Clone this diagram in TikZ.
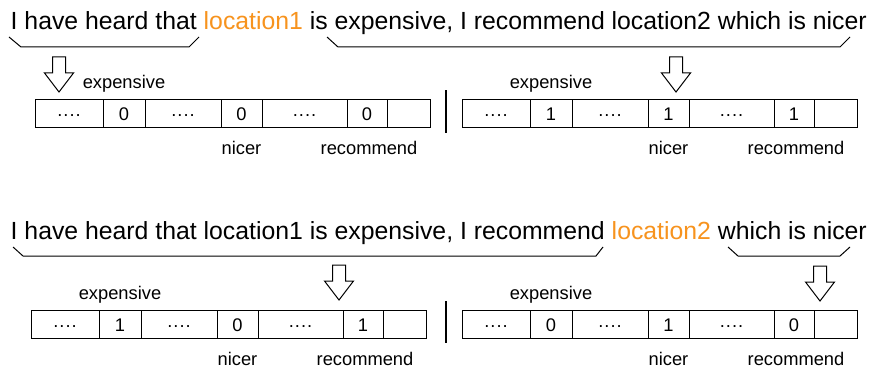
\documentclass[tikz,border=0pt]{standalone}
\usepackage{fontspec}
\setmainfont{Liberation Sans}
\definecolor{hl}{RGB}{247,147,30}

% one row of the vector: #1 name, #2 left x, #3 top y, #4-#6 the three values
\newcommand\vecrow[6]{%
  \node[cell, minimum width=68pt, anchor=north west] (#1-1) at (#2,#3) {····};
  \node[cell, minimum width=42pt, anchor=west] (#1-2) at (#1-1.east) {#4};
  \node[cell, minimum width=76pt, anchor=west] (#1-3) at (#1-2.east) {····};
  \node[cell, minimum width=41pt, anchor=west] (#1-4) at (#1-3.east) {#5};
  \node[cell, minimum width=85pt, anchor=west] (#1-5) at (#1-4.east) {····};
  \node[cell, minimum width=40pt, anchor=west] (#1-6) at (#1-5.east) {#6};
  \node[cell, minimum width=43pt, anchor=west] (#1-7) at (#1-6.east) {};
  \node[lbl, anchor=base] (#1-exp) at ([yshift=11pt]#1-2.north) {expensive};
  \node[lbl, anchor=base] (#1-nic) at ([yshift=-27pt]#1-4.south) {nicer};
  \node[lbl, anchor=base] (#1-rec) at ([xshift=2pt,yshift=-27pt]#1-6.south) {recommend};
}

\begin{document}
\begin{tikzpicture}[x=1pt, y=-1pt,
  sent/.style={font=\fontsize{24.8}{30}\selectfont, inner sep=0pt, outer sep=0pt, anchor=base west},
  lbl/.style={font=\fontsize{18.3}{22}\selectfont, inner sep=0pt, outer sep=0pt},
  cell/.style={draw, line width=1pt, minimum height=28pt, inner sep=0pt, outer sep=0pt,
    text height=13pt, text depth=0pt, font=\fontsize{18.3}{22}\selectfont},
  brace/.style={line width=1pt},
  sep/.style={line width=1.2pt},
  hollow/.style={draw, line width=1pt, fill=white, line join=miter},
  pics/downarrow/.style={code={
    \draw[hollow] (-6.5,-35) -- (6.5,-35) -- (6.5,-19) -- (14.5,-19) -- (0,0)
      -- (-14.5,-19) -- (-6.5,-19) -- cycle;}}
]
\useasboundingbox (0,0) rectangle (870,369);

% ---------- first example ----------
\node[sent] (s1) at (10.7,30) {I have heard that \textcolor{hl}{location1} is expensive, I recommend location2 which is nicer};

\coordinate (b1a) at (9,37);   \coordinate (b1b) at (21,47);
\coordinate (b1c) at (189,47); \coordinate (b1d) at (199,37);
\draw[brace] (b1a) -- (b1b) -- (b1c) -- (b1d);
\coordinate (b2a) at (327,37); \coordinate (b2b) at (338,47);
\coordinate (b2c) at (840,47); \coordinate (b2d) at (850,37);
\draw[brace] (b2a) -- (b2b) -- (b2c) -- (b2d);

\pic at (59,92) {downarrow};
\pic at (676,92) {downarrow};

\vecrow{tl}{35}{99.5}{0}{0}{0}
\vecrow{tr}{462}{99.5}{1}{1}{1}

\coordinate (sep1a) at (446,90); \coordinate (sep1b) at (446,133);
\draw[sep] (sep1a) -- (sep1b);

% ---------- second example ----------
\node[sent] (s2) at (10.7,239) {I have heard that location1 is expensive, I recommend \textcolor{hl}{location2} which is nicer};

\coordinate (b3a) at (13,247);  \coordinate (b3b) at (23,256);
\coordinate (b3c) at (596,256); \coordinate (b3d) at (603,247);
\draw[brace] (b3a) -- (b3b) -- (b3c) -- (b3d);
\coordinate (b4a) at (728,247); \coordinate (b4b) at (738,256);
\coordinate (b4c) at (840,256); \coordinate (b4d) at (850,247);
\draw[brace] (b4a) -- (b4b) -- (b4c) -- (b4d);

\pic at (339,300) {downarrow};
\pic at (820,301) {downarrow};

\vecrow{bl}{31}{310.5}{1}{0}{1}
\vecrow{br}{462}{310.5}{0}{1}{0}

\coordinate (sep2a) at (446,301); \coordinate (sep2b) at (446,343);
\draw[sep] (sep2a) -- (sep2b);
\end{tikzpicture}
\end{document}
